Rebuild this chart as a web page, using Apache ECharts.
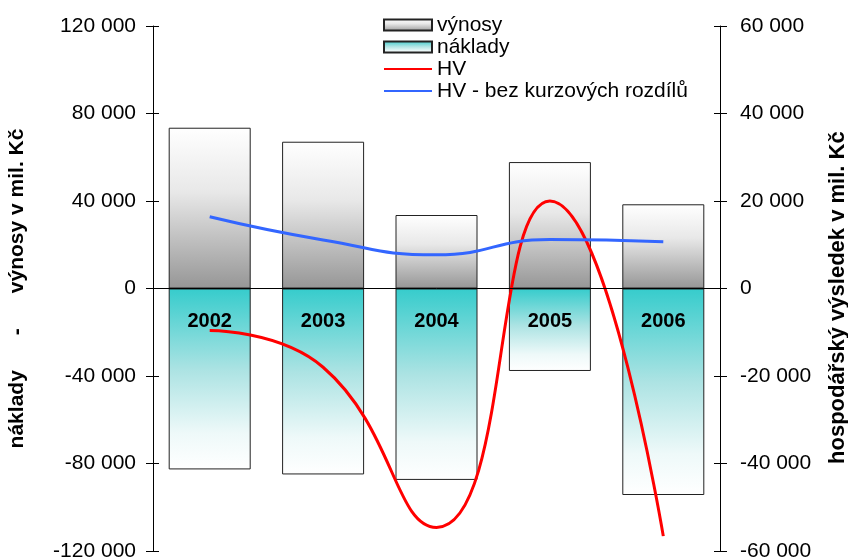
<!DOCTYPE html>
<html>
<head>
<meta charset="utf-8">
<script src="https://cdn.jsdelivr.net/npm/echarts@6/dist/echarts.min.js"></script>
<style>html,body{margin:0;padding:0;background:#fff}#c{width:848px;height:560px}</style>
</head>
<body>
<div id="c"></div>
<script>
const years = ['2002', '2003', '2004', '2005', '2006'];
const vynosy = [73500, 67100, 33600, 57800, 38500];
const naklady = [-82700, -85000, -87500, -37700, -94400];
const hv = [-9600, -18000, -54600, 20000, -56600];
const hvBezKurz = [16400, 11100, 7700, 11200, 10700];
const leftTicks = { min: -120000, max: 120000, interval: 40000 };
const rightTicks = { min: -60000, max: 60000, interval: 20000 };

const FONT = '"Liberation Sans", Arial, sans-serif';
const fmt = v => String(v).replace(/\B(?=(\d{3})+(?!\d))/g, ' ');

const chart = echarts.init(document.getElementById('c'), null, { renderer: 'canvas' });

function mainAxis(ticks, pos, name, gap, margin, nameSize) {
  return {
    type: 'value', position: pos, min: ticks.min, max: ticks.max, interval: ticks.interval,
    name: name, nameLocation: 'middle', nameGap: gap,
    nameTextStyle: { fontFamily: FONT, fontSize: nameSize, fontWeight: 'bold', color: '#000' },
    axisLine: { show: true, onZero: false, lineStyle: { color: '#000', width: 1 } },
    axisTick: { show: true, inside: false, length: 7, lineStyle: { color: '#000' } },
    axisLabel: { show: true, margin: margin, fontFamily: FONT, fontSize: 21, color: '#000', formatter: fmt },
    splitLine: { show: false }
  };
}
function innerAxis(ticks, pos) {
  return {
    type: 'value', position: pos, min: ticks.min, max: ticks.max, interval: ticks.interval,
    axisLine: { show: false, onZero: false },
    axisTick: { show: true, inside: true, length: 6, lineStyle: { color: '#000' } },
    axisLabel: { show: false }, splitLine: { show: false }
  };
}

const option = {
  animation: false,
  backgroundColor: '#fff',
  textStyle: { fontFamily: FONT },
  grid: { left: 153, right: 128, top: 26, bottom: 9, containLabel: false, outerBoundsMode: 'none' },
  legend: {
    orient: 'vertical', left: 378, top: 9,
    itemWidth: 48, itemHeight: 11, itemGap: 0,
    textStyle: { fontFamily: FONT, fontSize: 21, color: '#000', lineHeight: 22 },
    data: [
      { name: 'výnosy', icon: 'rect' },
      { name: 'náklady', icon: 'rect' },
      { name: 'HV', itemStyle: { opacity: 0 } },
      { name: 'HV - bez kurzových rozdílů', itemStyle: { opacity: 0 } }
    ]
  },
  xAxis: {
    type: 'category', data: years,
    axisLine: { show: true, onZero: true, lineStyle: { color: '#000', width: 1 } },
    axisTick: { show: false },
    axisLabel: { show: false },
    z: 5
  },
  yAxis: [
    mainAxis(leftTicks, 'left', 'náklady      -      výnosy v mil. Kč', 125, 17, 21),
    mainAxis(rightTicks, 'right', 'hospodářský výsledek v mil. Kč   ', 107, 20, 22),
    innerAxis(leftTicks, 'left'),
    innerAxis(rightTicks, 'right')
  ],
  series: [
    {
      name: 'výnosy', type: 'bar', data: vynosy, yAxisIndex: 0, barWidth: 82, barGap: '-100%',
      itemStyle: {
        borderColor: '#222', borderWidth: 1,
        color: new echarts.graphic.LinearGradient(0, 0, 0, 1, [
          { offset: 0, color: '#ffffff' },
          { offset: 0.4, color: '#e8e8e8' },
          { offset: 1, color: '#969696' }
        ])
      }
    },
    {
      name: 'náklady', type: 'bar', data: naklady, yAxisIndex: 0, barWidth: 82, barGap: '-100%',
      label: {
        show: true, position: 'insideTop', distance: 23,
        formatter: p => p.name,
        fontFamily: FONT, fontSize: 20, fontWeight: 'bold', color: '#000'
      },
      itemStyle: {
        borderColor: '#222', borderWidth: 1,
        color: new echarts.graphic.LinearGradient(0, 0, 0, 1, [
          { offset: 0, color: '#36cccc' },
          { offset: 0.45, color: '#ace3e3' },
          { offset: 0.8, color: '#eef9f9' },
          { offset: 1, color: '#ffffff' }
        ])
      }
    },
    {
      name: 'HV', type: 'line', data: hv, yAxisIndex: 1, smooth: 0.5, symbol: 'none',
      lineStyle: { color: '#ff0000', width: 3 }, itemStyle: { color: '#ff0000' }, z: 4
    },
    {
      name: 'HV - bez kurzových rozdílů', type: 'line', data: hvBezKurz, yAxisIndex: 1, smooth: 0.5, symbol: 'none',
      lineStyle: { color: '#3366ff', width: 3 }, itemStyle: { color: '#3366ff' }, z: 4
    }
  ]
};
chart.setOption(option);
</script>
</body>
</html>
